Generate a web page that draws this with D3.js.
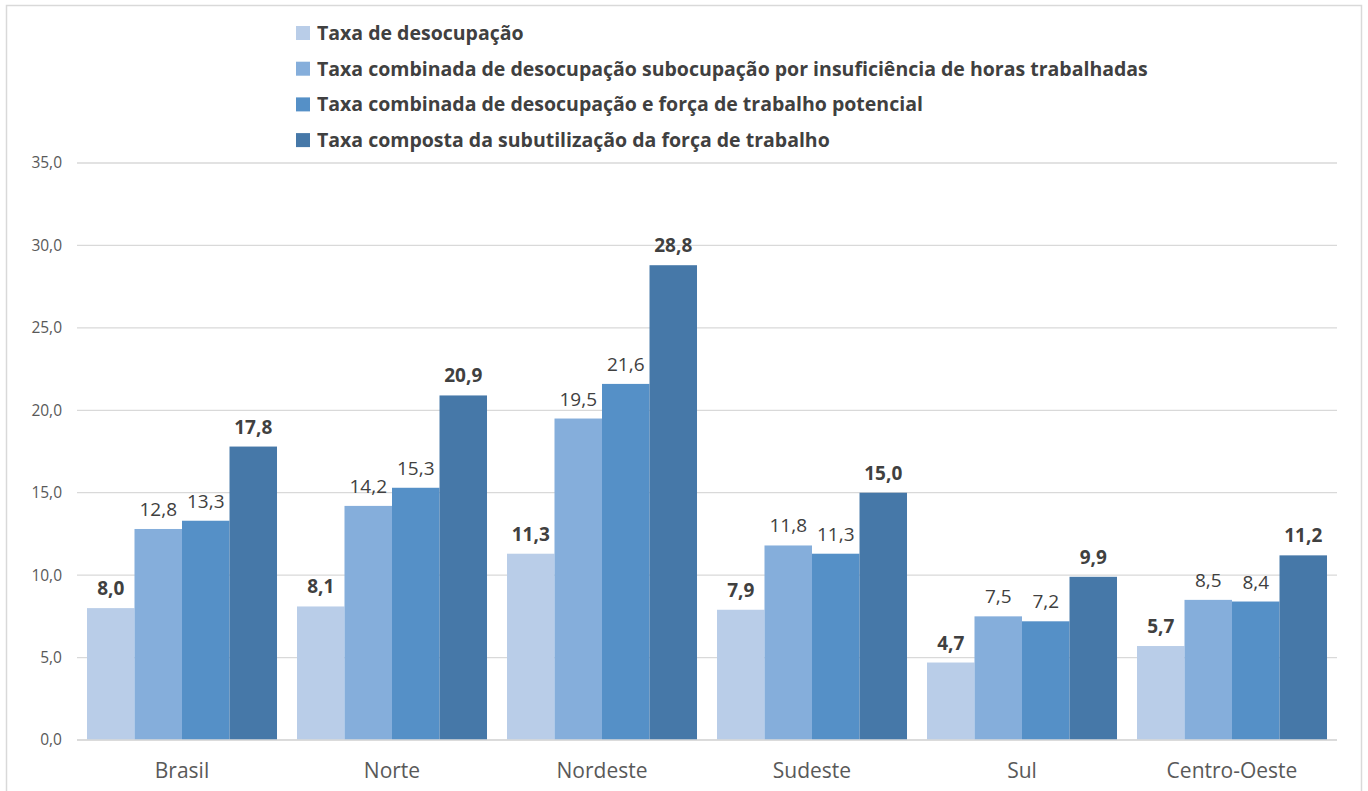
<!DOCTYPE html>
<html><head><meta charset="utf-8">
<script src="https://cdnjs.cloudflare.com/ajax/libs/d3/7.8.5/d3.min.js"></script>
<style>body{margin:0;background:#fff}svg{display:block}</style>
</head><body>
<svg id="c" width="1368" height="791"></svg>
<script>
const categories = ["Brasil","Norte","Nordeste","Sudeste","Sul","Centro-Oeste"];
const seriesNames = [
  "Taxa de desocupação",
  "Taxa combinada de desocupação subocupação por insuficiência de horas trabalhadas",
  "Taxa combinada de desocupação e força de trabalho potencial",
  "Taxa composta da subutilização da força de trabalho"
];
const desocupacao = [8.0, 8.1, 11.3, 7.9, 4.7, 5.7];
const combinadaSubocupacao = [12.8, 14.2, 19.5, 11.8, 7.5, 8.5];
const combinadaPotencial = [13.3, 15.3, 21.6, 11.3, 7.2, 8.4];
const composta = [17.8, 20.9, 28.8, 15.0, 9.9, 11.2];
const yTicks = [0, 5, 10, 15, 20, 25, 30, 35];
const colors = ["#B9CDE8", "#85AEDB", "#5590C7", "#4678A8"];
const boldLabel = [true, false, false, true];

const series = [desocupacao, combinadaSubocupacao, combinadaPotencial, composta];
const svg = d3.select("#c");
const font = "'Open Sans', 'Liberation Sans', sans-serif";

// chart border
svg.append("rect").attr("x",6.5).attr("y",5.5).attr("width",1355).attr("height",800)
  .attr("fill","none").attr("stroke","#D9D9D9").attr("stroke-width",1.5);

const pLeft = 77, pRight = 1337, pTop = 163, pBottom = 740;
const x = d3.scaleBand().domain(categories).range([pLeft, pRight]).paddingInner(0.0952).paddingOuter(0.0476);
const xs = d3.scaleBand().domain(d3.range(4)).range([0, x.bandwidth()]);
const y = d3.scaleLinear().domain([0, 35]).range([pBottom, pTop]);
const fmt = v => d3.format(".1f")(v).replace(".", ",");

// gridlines
svg.append("g").selectAll("line").data(yTicks).join("line")
  .attr("x1", pLeft).attr("x2", pRight)
  .attr("y1", d => y(d)).attr("y2", d => y(d))
  .attr("stroke", "#D9D9D9").attr("stroke-width", 1.3);

// y tick labels
svg.append("g").selectAll("text").data(yTicks).join("text")
  .attr("x", 62).attr("y", d => y(d)).attr("dy", "0.35em")
  .attr("text-anchor", "end").attr("font-family", font).attr("font-size", 15.5)
  .attr("fill", "#595959").text(d => fmt(d));

// bars
const g = svg.append("g");
series.forEach((vals, si) => {
  g.append("g").selectAll("rect").data(vals).join("rect")
    .attr("x", (d, i) => x(categories[i]) + xs(si))
    .attr("width", xs.bandwidth())
    .attr("y", d => y(d))
    .attr("height", d => pBottom - y(d))
    .attr("fill", colors[si]);
  g.append("g").selectAll("text").data(vals).join("text")
    .attr("x", (d, i) => x(categories[i]) + xs(si) + xs.bandwidth() / 2)
    .attr("y", d => y(d) - 13)
    .attr("text-anchor", "middle")
    .attr("font-family", font).attr("font-size", 19)
    .attr("font-weight", boldLabel[si] ? "bold" : "normal")
    .attr("fill", "#404040").text(d => fmt(d));
});

// baseline
svg.append("line").attr("x1", pLeft).attr("x2", pRight).attr("y1", pBottom).attr("y2", pBottom)
  .attr("stroke", "#D9D9D9").attr("stroke-width", 1.3);

// category labels
svg.append("g").selectAll("text").data(categories).join("text")
  .attr("x", d => x(d) + x.bandwidth() / 2).attr("y", 778)
  .attr("text-anchor", "middle").attr("font-family", font).attr("font-size", 21)
  .attr("fill", "#595959").text(d => d);

// legend
const lg = svg.append("g");
seriesNames.forEach((name, i) => {
  const cy = 33 + i * 35.7;
  lg.append("rect").attr("x", 296).attr("y", cy - 7).attr("width", 14).attr("height", 14).attr("fill", colors[i]);
  lg.append("text").attr("x", 317).attr("y", cy).attr("dy", "0.35em")
    .attr("font-family", font).attr("font-size", 19.5).attr("font-weight", "bold")
    .attr("fill", "#404040").text(name);
});
</script>
</body></html>
